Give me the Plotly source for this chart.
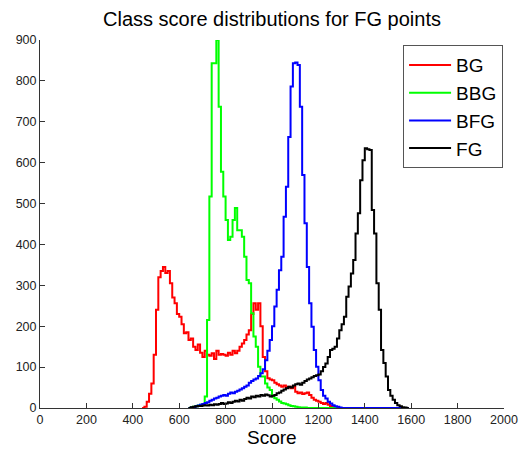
import numpy as np
import plotly.graph_objects as go

BIN_WIDTH = 10

# BG (red) histogram counts, bins start at 440
bg_start = 440
bg_counts = [0, 3, 15, 35, 60, 130, 240, 320, 335, 345, 330, 335, 305, 270, 256, 230, 223, 205,
             183, 185, 166, 170, 150, 142, 155, 135, 125, 140, 130, 128, 134, 120, 140, 130, 132,
             130, 128, 135, 130, 140, 134, 140, 150, 158, 166, 180, 190, 230, 256, 240, 256, 200,
             125, 90, 73, 70, 68, 62, 58, 55, 52, 55, 50, 52, 48, 52, 40, 36, 38, 34, 36, 38, 32,
             25, 20, 18, 15, 12, 10, 12, 8, 5, 3, 2, 0]

# BBG (green) histogram counts, bins start at 640
bbg_start = 640
bbg_counts = [0, 2, 3, 4, 6, 8, 10, 28, 215, 517, 843, 843, 900, 737, 578, 517, 460, 411, 419,
              460, 489, 435, 435, 419, 370, 313, 305, 232, 175, 150, 101, 77, 77, 60, 50, 44, 28,
              24, 20, 16, 12, 11, 9, 7, 5, 4, 3, 2, 1, 1, 1, 0, 0, 0, 0, 0, 0, 0, 0, 0, 0, 0, 0,
              0]

# BFG (blue) histogram counts, bins start at 640
bfg_start = 640
bfg_counts = [0, 1, 2, 4, 6, 8, 10, 12, 14, 18, 20, 23, 25, 28, 30, 32, 30, 35, 38, 36, 40, 42,
              45, 48, 52, 55, 62, 66, 70, 72, 78, 85, 95, 117, 140, 166, 200, 248, 289, 337, 370,
              468, 541, 663, 786, 843, 845, 839, 737, 570, 452, 345, 256, 199, 142, 101, 68, 44,
              30, 23, 15, 11, 7, 4, 3, 1, 0, 0, 0, 0, 0, 0, 0, 0, 0, 0, 0, 0, 0, 0, 0, 0, 0, 0,
              0, 0, 0, 0, 0, 0, 0, 0, 0, 0, 0]

# FG (black) histogram counts, bins start at 640
fg_start = 640
fg_counts = [0, 2, 3, 4, 5, 5, 6, 7, 6, 8, 7, 9, 8, 10, 12, 10, 11, 14, 12, 15, 18, 16, 20, 18,
             22, 25, 23, 28, 26, 30, 28, 32, 30, 33, 31, 28, 30, 32, 36, 38, 42, 45, 48, 52, 50,
             55, 58, 60, 57, 62, 66, 70, 72, 75, 78, 80, 82, 90, 100, 109, 125, 142, 145, 150,
             170, 190, 205, 223, 272, 297, 329, 362, 427, 476, 557, 606, 635, 633, 631, 484, 427,
             305, 240, 142, 110, 77, 44, 30, 20, 12, 7, 4, 2, 1, 0]

series = [
    ("BG", bg_start, bg_counts, "#ff0000"),
    ("BBG", bbg_start, bbg_counts, "#00ff00"),
    ("BFG", bfg_start, bfg_counts, "#0000ff"),
    ("FG", fg_start, fg_counts, "#000000"),
]

x_ticks = [0, 200, 400, 600, 800, 1000, 1200, 1400, 1600, 1800, 2000]
y_ticks = [0, 100, 200, 300, 400, 500, 600, 700, 800, 900]

FONT = "Liberation Sans, Arial, sans-serif"

fig = go.Figure()
for name, start, counts, color in series:
    edges = start + BIN_WIDTH * np.arange(len(counts) + 1)
    yv = list(counts) + [counts[-1]]
    fig.add_trace(go.Scatter(
        x=edges, y=yv, mode="lines", name=name,
        line=dict(color=color, width=2, shape="hv"),
    ))

fig.update_layout(
    width=514, height=439,
    margin=dict(l=32, r=18, t=32, b=39, autoexpand=False),
    paper_bgcolor="white", plot_bgcolor="white",
    title=dict(text="Class score distributions for FG points", x=0.5, xanchor="center",
               xref="paper", yref="container", y=0.975, yanchor="middle",
               font=dict(family=FONT, size=20, color="black")),
    showlegend=True,
    legend=dict(x=0.998, xanchor="right", y=0.986, yanchor="top",
                bordercolor="#555555", borderwidth=1, bgcolor="white",
                itemwidth=42,
                font=dict(family=FONT, size=19, color="black")),
    font=dict(family=FONT, size=12.5, color="#222222"),
    annotations=[dict(text="Score", x=0.5, xref="paper", xanchor="center",
                      y=-0.0815, yref="paper", yanchor="middle", showarrow=False,
                      font=dict(family=FONT, size=19, color="black"))],
)

fig.update_xaxes(
    range=[0, 2000], tickvals=x_ticks, ticktext=[str(t) for t in x_ticks],
    ticks="inside", ticklen=5, tickcolor="#333333",
    showline=True, linecolor="#333333", linewidth=1, mirror=False,
    showgrid=False, zeroline=False, automargin=False,
    tickfont=dict(family=FONT, size=12.5, color="#222222"),
)
fig.update_yaxes(
    range=[0, 900], tickvals=y_ticks, ticktext=[str(t) for t in y_ticks],
    ticks="inside", ticklen=5, tickcolor="#333333",
    showline=True, linecolor="#333333", linewidth=1, mirror=False,
    showgrid=False, zeroline=False, automargin=False,
    tickfont=dict(family=FONT, size=12.5, color="#222222"),
)

fig.write_html("out.html")
